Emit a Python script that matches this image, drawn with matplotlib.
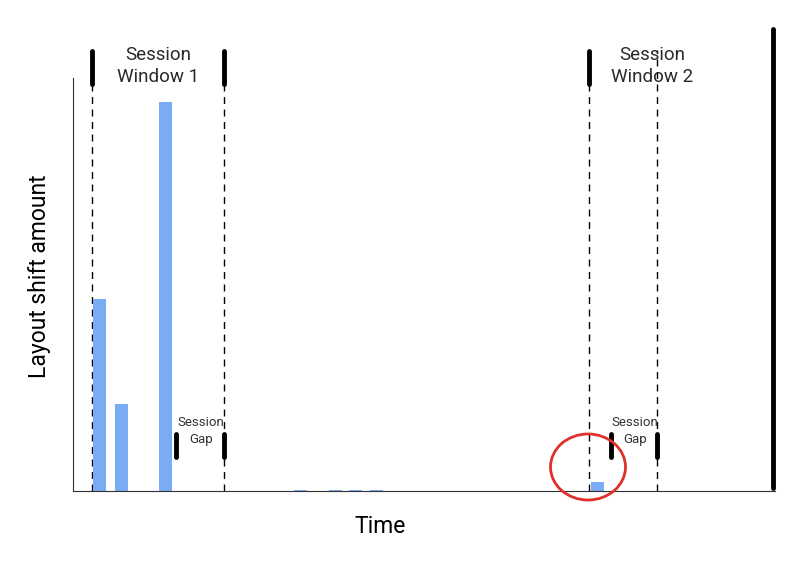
import matplotlib.pyplot as plt
from matplotlib.patches import Ellipse

plt.rcParams['font.family'] = ['Roboto', 'DejaVu Sans']

# layout shifts over time (arbitrary units)
shift_times = [26.5, 48.5, 92, 227, 262, 282, 303, 524]
shift_amounts = [192, 87, 389, 1.5, 1.5, 1.5, 1.5, 9]

# session window boundaries
window_starts = [19, 516]
window_ends = [151, 584]
gap_starts = [103, 538]
window_labels = ["Session\nWindow 1", "Session\nWindow 2"]
page_end = 700

fig = plt.figure(figsize=(7.94, 5.61), dpi=100)
ax = fig.add_axes([73 / 794, 70 / 561, 702 / 794, 413 / 561])

ax.bar(shift_times, shift_amounts, width=13, color="#7aabf5", zorder=2)

ax.set_xlim(0, 702)
ax.set_ylim(0, 413)

# dashed boundaries of each window
for s, e in zip(window_starts, window_ends):
    for xv in (s, e):
        ax.plot([xv, xv], [0, 441], ls=(0, (5, 4)), color="black", lw=1,
                clip_on=False, zorder=1)

# thick start markers at the top
for xv in [window_starts[0], window_ends[0], window_starts[1]]:
    ax.plot([xv, xv], [407, 440], color="black", lw=3.5,
            solid_capstyle="round", clip_on=False, zorder=3)

# end of page
ax.plot([page_end, page_end], [3, 462], color="black", lw=3.5,
        solid_capstyle="round", clip_on=False, zorder=3)

# window labels
for lab, xc in zip(window_labels, [85, 579]):
    ax.text(xc, 425, lab, ha="center", va="center", fontsize=13.5,
            color="#2a2a2a", linespacing=1.3)

# session gap markers
for g, e in zip(gap_starts, window_ends):
    for xv in (g, e):
        ax.plot([xv, xv], [34, 57], color="black", lw=3.5,
                solid_capstyle="round", zorder=3)
    ax.text((g + e) / 2 + 1, 60, "Session\nGap", ha="center", va="center",
            fontsize=9.5, color="#333333", linespacing=1.3)

# highlight
ax.add_patch(Ellipse((515, 24), 75, 66, fill=False, edgecolor="#e0302b",
                     lw=2, clip_on=False, zorder=4))

for side in ["top", "right"]:
    ax.spines[side].set_visible(False)
ax.spines["left"].set_color("#333333")
ax.spines["bottom"].set_color("#333333")
ax.set_xticks([])
ax.set_yticks([])

ax.set_xlabel("Time", fontsize=16.5)
ax.xaxis.set_label_coords(0.437, -0.057)
ax.set_ylabel("Layout shift amount", fontsize=16.5)
ax.yaxis.set_label_coords(-0.031, 0.52)

plt.savefig("out.png", dpi=100)
